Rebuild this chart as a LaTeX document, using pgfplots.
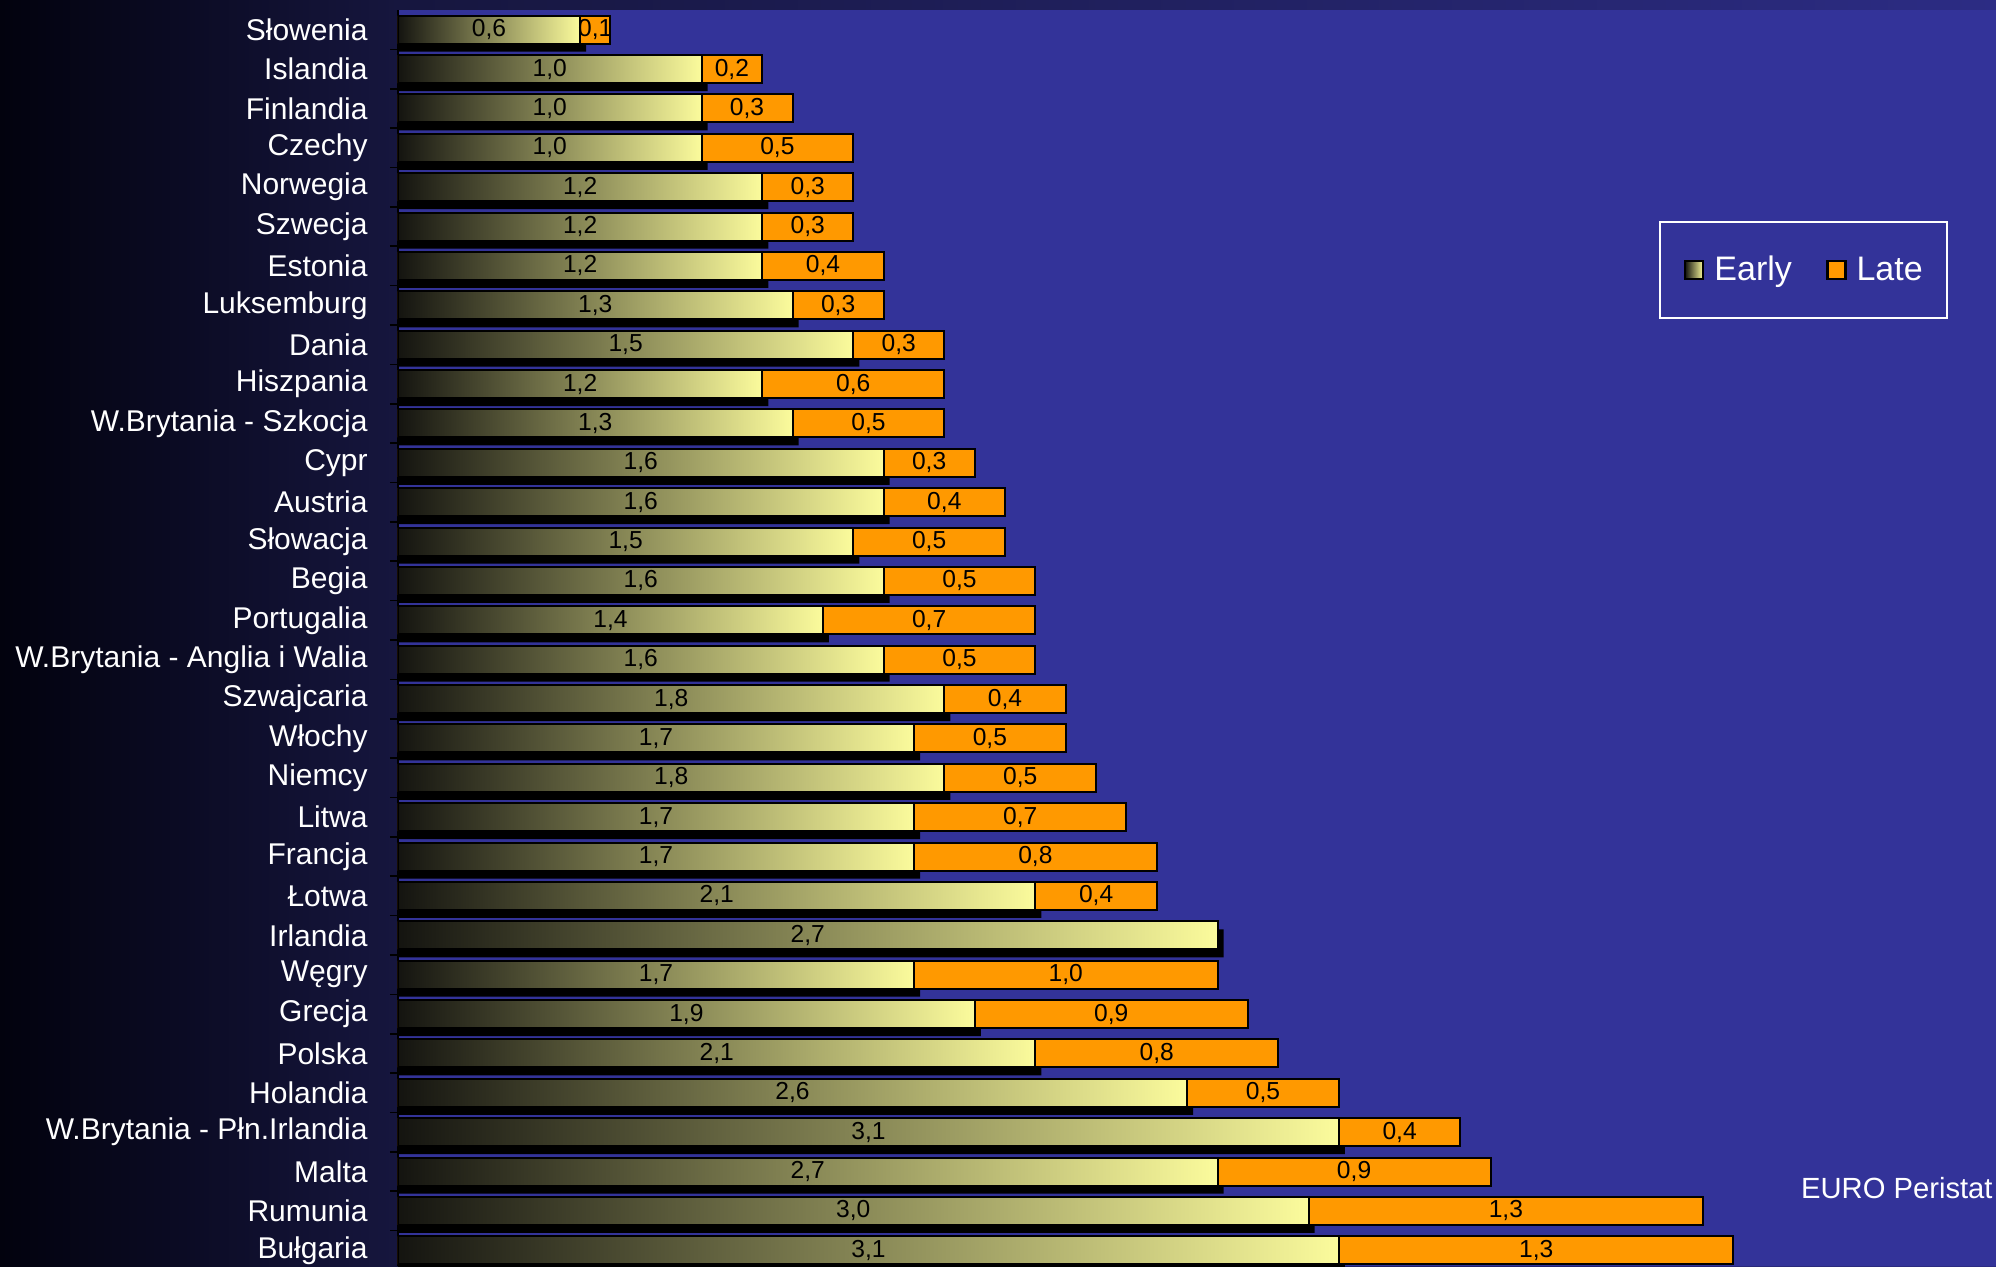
\documentclass[border=0pt]{standalone}
\usepackage{fontspec}
\setmainfont{Liberation Sans}
\usepackage{pgfplots}
\usepackage{pgfplotstable}
\pgfplotsset{compat=1.18}

\definecolor{plotblue}{HTML}{333399}
\definecolor{lateorange}{HTML}{FF9900}
\definecolor{earlydark}{HTML}{141410}
\definecolor{earlymid}{HTML}{B0B070}
\definecolor{earlylight}{HTML}{FBFB9C}
\definecolor{bgleft}{HTML}{02020E}
\definecolor{bgright}{HTML}{16163E}
\definecolor{topright}{HTML}{2C2C84}

% Early and late share per country
\pgfplotstableread[col sep=semicolon]{
name;early;late
Słowenia;0.6;0.1
Islandia;1.0;0.2
Finlandia;1.0;0.3
Czechy;1.0;0.5
Norwegia;1.2;0.3
Szwecja;1.2;0.3
Estonia;1.2;0.4
Luksemburg;1.3;0.3
Dania;1.5;0.3
Hiszpania;1.2;0.6
W.Brytania - Szkocja;1.3;0.5
Cypr;1.6;0.3
Austria;1.6;0.4
Słowacja;1.5;0.5
Begia;1.6;0.5
Portugalia;1.4;0.7
W.Brytania - Anglia i Walia;1.6;0.5
Szwajcaria;1.8;0.4
Włochy;1.7;0.5
Niemcy;1.8;0.5
Litwa;1.7;0.7
Francja;1.7;0.8
Łotwa;2.1;0.4
Irlandia;2.7;0.0
Węgry;1.7;1.0
Grecja;1.9;0.9
Polska;2.1;0.8
Holandia;2.6;0.5
W.Brytania - Płn.Irlandia;3.1;0.4
Malta;2.7;0.9
Rumunia;3.0;1.3
Bułgaria;3.1;1.3
}\data

\tikzset{
  earlystyle/.style={draw=black, line width=1pt,
    left color=earlydark, middle color=earlymid, right color=earlylight},
  latestyle/.style={draw=black, line width=1pt, fill=lateorange},
}

\pgfplotsset{
  common/.style={
    at={(199pt,0pt)}, anchor=south west,
    scale only axis, width=799pt, height=628pt,
    xmin=0, xmax=5.265, ymin=-0.5, ymax=31.4,
    y dir=reverse,
  },
}

\begin{document}
\begin{tikzpicture}
\useasboundingbox (0,0) rectangle (998pt,633pt);
\clip (0,0) rectangle (998pt,633pt);
\shade[left color=bgleft, right color=bgright] (0,0) rectangle (199pt,633pt);
\shade[left color=bgright, right color=topright] (199pt,0) rectangle (998pt,633pt);

\begin{axis}[
  common,
  xbar, bar width=14pt,
  axis background/.style={fill=plotblue},
  axis lines*=left,
  x axis line style={draw=none},
  y axis line style={black, line width=0.8pt},
  xtick=\empty,
  ytick={0,...,31},
  yticklabels from table={\data}{name},
  minor ytick={0.5,1.5,...,30.5},
  major tick length=0pt,
  minor tick length=4pt,
  tick align=outside,
  tick style={black, line width=0.8pt},
  yticklabel style={font=\fontsize{15}{17}\selectfont, text=white, inner sep=0pt, xshift=-15pt},
  legend style={at={(0.789,0.832)}, anchor=north west, draw=white, line width=1pt,
    fill=none, text=white, font=\fontsize{17}{20}\selectfont,
    legend columns=2, inner xsep=12pt, inner ysep=17pt,
    nodes={inner sep=0pt},
    /tikz/every odd column/.append style={column sep=5pt},
    /tikz/every even column/.append style={column sep=17pt}},
]
% shadow under the early bars
\addplot[forget plot, bar shift=-4pt, fill=black, draw=none]
  table[x expr=\thisrow{early}+0.02, y expr=\coordindex] {\data};
% late share drawn as total length, early bar laid over it
\addplot[forget plot, bar shift=0pt, latestyle]
  table[x expr=\thisrow{early}+\thisrow{late}, y expr=\coordindex] {\data};
% one plot per row so each bar gets its own gradient
\pgfplotsinvokeforeach{0,...,31}{
  \addplot[forget plot, bar shift=0pt, earlystyle, restrict expr to domain={\coordindex}{#1:#1}]
    table[x=early, y expr=\coordindex] {\data};
}
\addlegendimage{legend image code/.code={\draw[earlystyle, line width=1.3pt] (0pt,-4.5pt) rectangle (9pt,4.5pt);}}
\addlegendentry{Early}
\addlegendimage{legend image code/.code={\draw[latestyle, line width=1.3pt] (0pt,-4.5pt) rectangle (9pt,4.5pt);}}
\addlegendentry{Late}
\end{axis}

% value labels centred in each segment
\begin{axis}[
  common, hide axis, clip=false,
  nodes near coords={\pgfmathprintnumber[fixed, fixed zerofill, precision=1, use comma, assume math mode=true]{\pgfplotspointmeta}},
  every node near coord/.style={anchor=center, inner sep=0pt, text=black, font=\fontsize{12.3}{14}\selectfont},
]
\addplot[draw=none, mark=none, point meta=\thisrow{early}]
  table[x expr=\thisrow{early}/2, y expr=\coordindex] {\data};
\addplot[draw=none, mark=none, point meta=\thisrow{late},
  restrict expr to domain={\thisrow{late}}{0.05:10}]
  table[x expr=\thisrow{early}+\thisrow{late}/2, y expr=\coordindex] {\data};
\end{axis}

\node[anchor=east, text=white, font=\fontsize{14.6}{17}\selectfont, inner sep=0pt] at (996.5pt,39pt) {EURO Peristat};
\end{tikzpicture}
\end{document}
